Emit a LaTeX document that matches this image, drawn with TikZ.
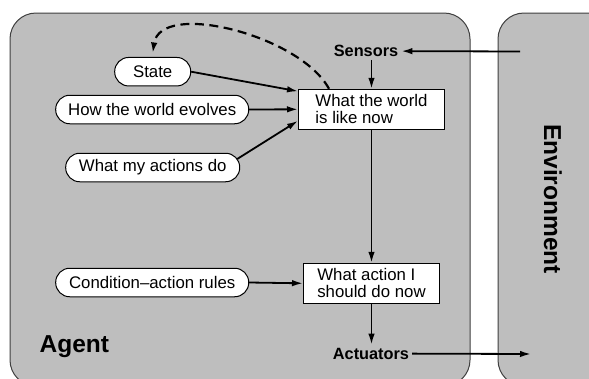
\documentclass[tikz,border=0pt]{standalone}
\usepackage{fontspec}
\setmainfont{Liberation Sans}
\usetikzlibrary{arrows.meta}
\definecolor{agentgray}{RGB}{190,190,190}
\begin{document}
\begin{tikzpicture}[x=1pt,y=-1pt,
  panel/.style={draw=black!75, line width=1pt, fill=agentgray, rounded corners=26pt},
  pill/.style={draw, fill=white, line width=1pt, rounded corners=14pt,
    minimum height=28.5pt, inner xsep=4pt, font=\fontsize{16.8}{17}\selectfont},
  procbox/.style={draw, fill=white, line width=1pt, align=left,
    minimum height=40pt, inner sep=2pt, font=\fontsize{16.8}{17}\selectfont},
  lbl/.style={inner sep=3pt, font=\bfseries\fontsize{16.3}{17}\selectfont},
  flow/.style={-{Latex[length=11pt,width=6.5pt]}, line width=1.8pt},
  feedback/.style={-{Latex[length=11pt,width=6.5pt]}, line width=2.2pt,
    dash pattern=on 9pt off 5.5pt}
]
\useasboundingbox (0,0) rectangle (589,378);
\clip (0,0) rectangle (589,378);
\fill[white] (0,0) rectangle (589,378);

% agent and environment panels
\draw[panel] (10,13) rectangle (470,386);
\draw[panel] (498,13) rectangle (640,386);

% labels
\node[font=\bfseries\fontsize{24.5}{26}\selectfont, anchor=base west, inner sep=0pt]
  (agent) at (39.4,352.7) {Agent};
\node[font=\bfseries\fontsize{24.5}{26}\selectfont, rotate=-90]
  (env) at (553,199) {Environment};
\node[lbl] (sensors) at (366,51) {Sensors};
\node[lbl] (actuators) at (371,353.5) {Actuators};

% knowledge items
\node[pill, minimum width=76pt] (state) at (152.7,71.7) {State};
\node[pill, minimum width=193pt] (evolve) at (152.2,109.5) {How the world evolves};
\node[pill, minimum width=174pt] (actions) at (152.7,167.5) {What my actions do};
\node[pill, minimum width=193pt] (rules) at (152.2,282.5) {Condition--action rules};

% processing boxes
\node[procbox, minimum width=146pt] (world) at (371.5,109.3) {What the world\\is like now};
\node[procbox, minimum width=136pt] (decide) at (371.5,283.3) {What action I\\should do now};

% free ends at the environment
\coordinate (envin) at (520,51.5);
\coordinate (envout) at (531,354);

% connectors
\draw[flow] (envin) -- (sensors);
\draw[flow] (world.north |- sensors.south) -- (world.north);
\draw[flow] (world) -- (decide);
\draw[flow] (decide.south) -- (decide.south |- actuators.north);
\draw[flow] (actuators) -- (envout);
\draw[flow] (state.east) -- ([yshift=-2.5pt]world.north west);
\draw[flow] (evolve.east) -- (world.west);
\draw[flow] ([xshift=-3pt,yshift=8.5pt]actions.east) -- ([yshift=9pt]world.south west);
\draw[flow] (rules.east) -- (decide.west);
\draw[feedback] ([xshift=31pt]world.north west)
  .. controls (300,35) and (160,0) .. ([yshift=3.5pt]state.north);
\end{tikzpicture}
\end{document}
